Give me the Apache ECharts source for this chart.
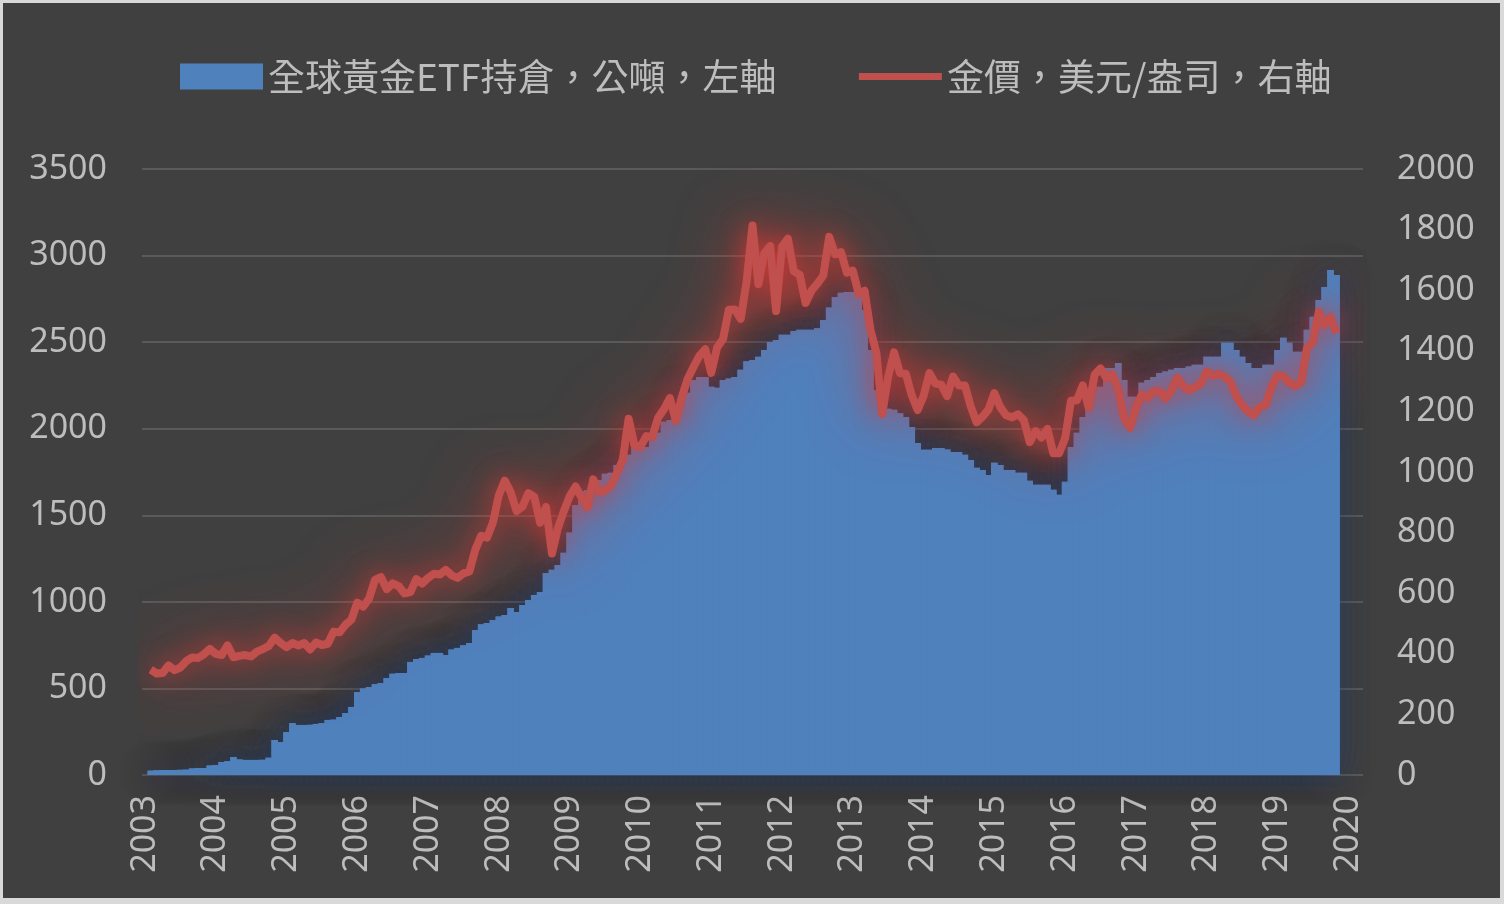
<!DOCTYPE html>
<html>
<head>
<meta charset="utf-8">
<script src="https://cdn.jsdelivr.net/npm/echarts@6/dist/echarts.min.js"></script>
<style>
  html, body { margin: 0; padding: 0; background: #d9d9d9; }
  #chart { position: absolute; left: 3px; top: 3px; width: 1497px; height: 895px; background: #404040; }
</style>
</head>
<body>
<div id="chart"></div>
<script>
// year tick labels; axis runs monthly from 2003-01 to 2020-03
var years = ['2003', '2004', '2005', '2006', '2007', '2008', '2009', '2010', '2011',
  '2012', '2013', '2014', '2015', '2016', '2017', '2018', '2019', '2020'];
var extraMonths = 3;

var etfName = '全球黃金ETF持倉，公噸，左軸';
var goldName = '金價，美元/盎司，右軸';

// global gold ETF holdings, tonnes, month end (2003-01 .. 2019-11)
var etfTonnes = [
  null, 25, 27, 29, 29, 29, 30, 31, 38, 40, 40, 55,
  58, 75, 80, 104, 90, 87, 87, 87, 88, 100, 202, 190,
  248, 300, 289, 289, 290, 295, 300, 318, 320, 335, 358, 393,
  479, 500, 508, 525, 531, 560, 585, 589, 589, 653, 670, 676,
  690, 705, 705, 693, 725, 734, 750, 763, 838, 870, 878, 895,
  915, 924, 965, 942, 982, 1011, 1040, 1057, 1167, 1185, 1213, 1283,
  1400, 1560, 1640, 1646, 1680, 1704, 1740, 1745, 1790, 1803, 1850, 1895,
  1890, 1895, 1960, 1976, 2040, 2051, 2051, 2190, 2207, 2282, 2299, 2299,
  2242, 2236, 2282, 2290, 2299, 2340, 2390, 2397, 2415, 2455, 2501, 2513,
  2542, 2542, 2565, 2571, 2571, 2571, 2580, 2628, 2700, 2761, 2785, 2790,
  2790, 2761, 2686, 2455, 2224, 2149, 2115, 2109, 2090, 2068, 2010, 1918,
  1878, 1878, 1889, 1889, 1880, 1866, 1866, 1850, 1820, 1774, 1762, 1733,
  1803, 1791, 1762, 1762, 1745, 1745, 1700, 1676, 1676, 1676, 1647, 1618,
  1693, 1895, 1976, 2068, 2126, 2242, 2242, 2351, 2351, 2380, 2282, 2184,
  2184, 2265, 2282, 2299, 2322, 2330, 2340, 2351, 2351, 2360, 2369, 2369,
  2415, 2415, 2415, 2496, 2496, 2455, 2415, 2380, 2351, 2351, 2369, 2369,
  2455, 2525, 2496, 2444, 2444, 2571, 2646, 2744, 2819, 2917, 2888
];

// gold price, USD/oz, month end (2003-01 .. 2019-11)
var goldUsd = [
  null, 347.45, 334.85, 336.75, 361.4, 346.0, 354.75, 375.6, 388.0, 386.25, 398.35, 416.25,
  399.75, 395.85, 427.5, 388.5, 393.25, 395.8, 391.4, 407.25, 415.65, 425.55, 453.4, 435.6,
  422.15, 435.45, 427.5, 435.7, 414.45, 437.1, 429.0, 433.25, 473.25, 470.75, 495.65, 513.0,
  568.75, 556.0, 582.0, 644.0, 653.0, 613.5, 632.5, 623.5, 599.25, 603.75, 646.7, 632.0,
  650.5, 664.2, 661.75, 677.0, 659.1, 650.5, 665.5, 672.0, 743.0, 789.5, 783.5, 833.75,
  923.25, 971.5, 933.5, 871.0, 885.75, 930.25, 918.0, 833.0, 884.5, 730.75, 814.5, 869.75,
  919.5, 952.0, 916.5, 883.25, 975.5, 934.5, 939.0, 955.5, 995.75, 1040.0, 1175.75, 1087.5,
  1083.0, 1118.5, 1115.5, 1179.25, 1207.5, 1244.0, 1169.0, 1246.0, 1307.0, 1346.75, 1383.5, 1405.5,
  1327.0, 1411.0, 1439.0, 1535.5, 1536.5, 1505.5, 1628.5, 1813.5, 1620.0, 1722.0, 1746.0, 1531.0,
  1744.0, 1770.0, 1662.5, 1651.25, 1558.0, 1598.5, 1622.0, 1648.5, 1776.0, 1719.0, 1726.0, 1657.5,
  1664.75, 1588.5, 1598.25, 1469.0, 1394.5, 1192.0, 1314.5, 1394.75, 1326.5, 1324.0, 1253.0, 1204.5,
  1251.0, 1326.5, 1291.75, 1288.5, 1250.5, 1315.0, 1285.25, 1285.75, 1216.5, 1164.25, 1182.75, 1206.0,
  1260.25, 1214.0, 1187.0, 1180.25, 1190.5, 1171.0, 1098.4, 1135.0, 1114.0, 1142.35, 1061.9, 1062.25,
  1111.8, 1234.9, 1237.0, 1285.65, 1212.1, 1320.75, 1342.0, 1309.25, 1322.5, 1272.0, 1178.1, 1145.9,
  1212.8, 1255.6, 1244.85, 1266.45, 1266.2, 1242.25, 1267.55, 1311.75, 1283.1, 1270.15, 1280.15, 1291.0,
  1331.3, 1317.85, 1323.85, 1315.05, 1298.3, 1250.45, 1220.95, 1200.8, 1187.25, 1214.95, 1220.6, 1281.65,
  1319.75, 1316.1, 1295.4, 1283.25, 1295.5, 1409.0, 1427.55, 1528.4, 1485.3, 1510.95, 1459.0
];

// monthly categories built from the year labels
var months = [];
years.forEach(function (y, i) {
  var n = i === years.length - 1 ? extraMonths : 12;
  for (var m = 1; m <= n; m++) {
    months.push(y + '-' + (m < 10 ? '0' + m : m));
  }
});

var textColor = '#bdbdbd';
var blue = '#4f81bd';
var red = '#c0504d';
var plain = function (v) { return String(v); };

var myChart = echarts.init(document.getElementById('chart'));

var option = {
  animation: false,
  backgroundColor: '#404040',
  legend: {
    left: 177,
    top: 55,
    padding: 0,
    itemWidth: 83,
    itemHeight: 26,
    itemGap: 79,
    textStyle: {
      color: textColor,
      fontSize: 37,
      fontFamily: '"Noto Sans CJK TC", "Noto Sans", sans-serif'
    },
    data: [
      { name: etfName, icon: 'rect', itemStyle: { color: blue, shadowBlur: 0 } },
      {
        name: goldName,
        itemStyle: { color: 'rgba(0,0,0,0)', borderWidth: 0, opacity: 0, shadowBlur: 0 },
        lineStyle: { color: red, width: 7, shadowBlur: 0 }
      }
    ]
  },
  grid: {
    left: 139,
    right: 137,
    top: 166,
    bottom: 123
  },
  xAxis: {
    type: 'category',
    data: months,
    boundaryGap: true,
    axisLine: { show: false },
    axisTick: { show: false },
    axisLabel: {
      rotate: 90,
      margin: 20,
      color: textColor,
      fontSize: 34,
      fontFamily: '"Noto Sans", sans-serif',
      interval: function (index) {
        return index % 12 === 0;
      },
      formatter: function (value) {
        return value.slice(0, 4);
      }
    }
  },
  yAxis: [
    {
      type: 'value',
      min: 0,
      max: 3500,
      interval: 500,
      axisLine: { show: false },
      axisTick: { show: false },
      axisLabel: {
        margin: 35,
        color: textColor,
        fontSize: 34,
        fontFamily: '"Noto Sans", sans-serif',
        formatter: plain
      },
      splitLine: {
        lineStyle: { color: '#5a5a5a', width: 2 }
      }
    },
    {
      type: 'value',
      min: 0,
      max: 2000,
      interval: 200,
      position: 'right',
      axisLine: { show: false },
      axisTick: { show: false },
      axisLabel: {
        margin: 34,
        color: textColor,
        fontSize: 34,
        fontFamily: '"Noto Sans", sans-serif',
        formatter: plain
      },
      splitLine: { show: false }
    }
  ],
  series: [
    {
      // soft glow drawn underneath the bars
      name: 'barGlow',
      type: 'bar',
      yAxisIndex: 0,
      barWidth: '112%',
      silent: true,
      data: etfTonnes,
      itemStyle: {
        color: blue,
        shadowBlur: 30,
        shadowColor: 'rgba(30, 70, 140, 0.5)'
      }
    },
    {
      name: etfName,
      type: 'bar',
      yAxisIndex: 0,
      barGap: '-100%',
      barWidth: '112%',
      data: etfTonnes,
      itemStyle: { color: blue }
    },
    {
      // wide red halo behind the price line
      name: 'lineGlow',
      type: 'line',
      yAxisIndex: 1,
      symbol: 'none',
      silent: true,
      data: goldUsd,
      lineStyle: {
        color: red,
        width: 8,
        join: 'round',
        shadowBlur: 65,
        shadowColor: 'rgba(220, 50, 45, 1)'
      }
    },
    {
      name: goldName,
      type: 'line',
      yAxisIndex: 1,
      symbol: 'none',
      data: goldUsd,
      lineStyle: {
        color: red,
        width: 7,
        join: 'round',
        shadowBlur: 25,
        shadowColor: 'rgba(215, 60, 55, 0.9)'
      },
      itemStyle: { color: red }
    }
  ]
};

myChart.setOption(option);
</script>
</body>
</html>
